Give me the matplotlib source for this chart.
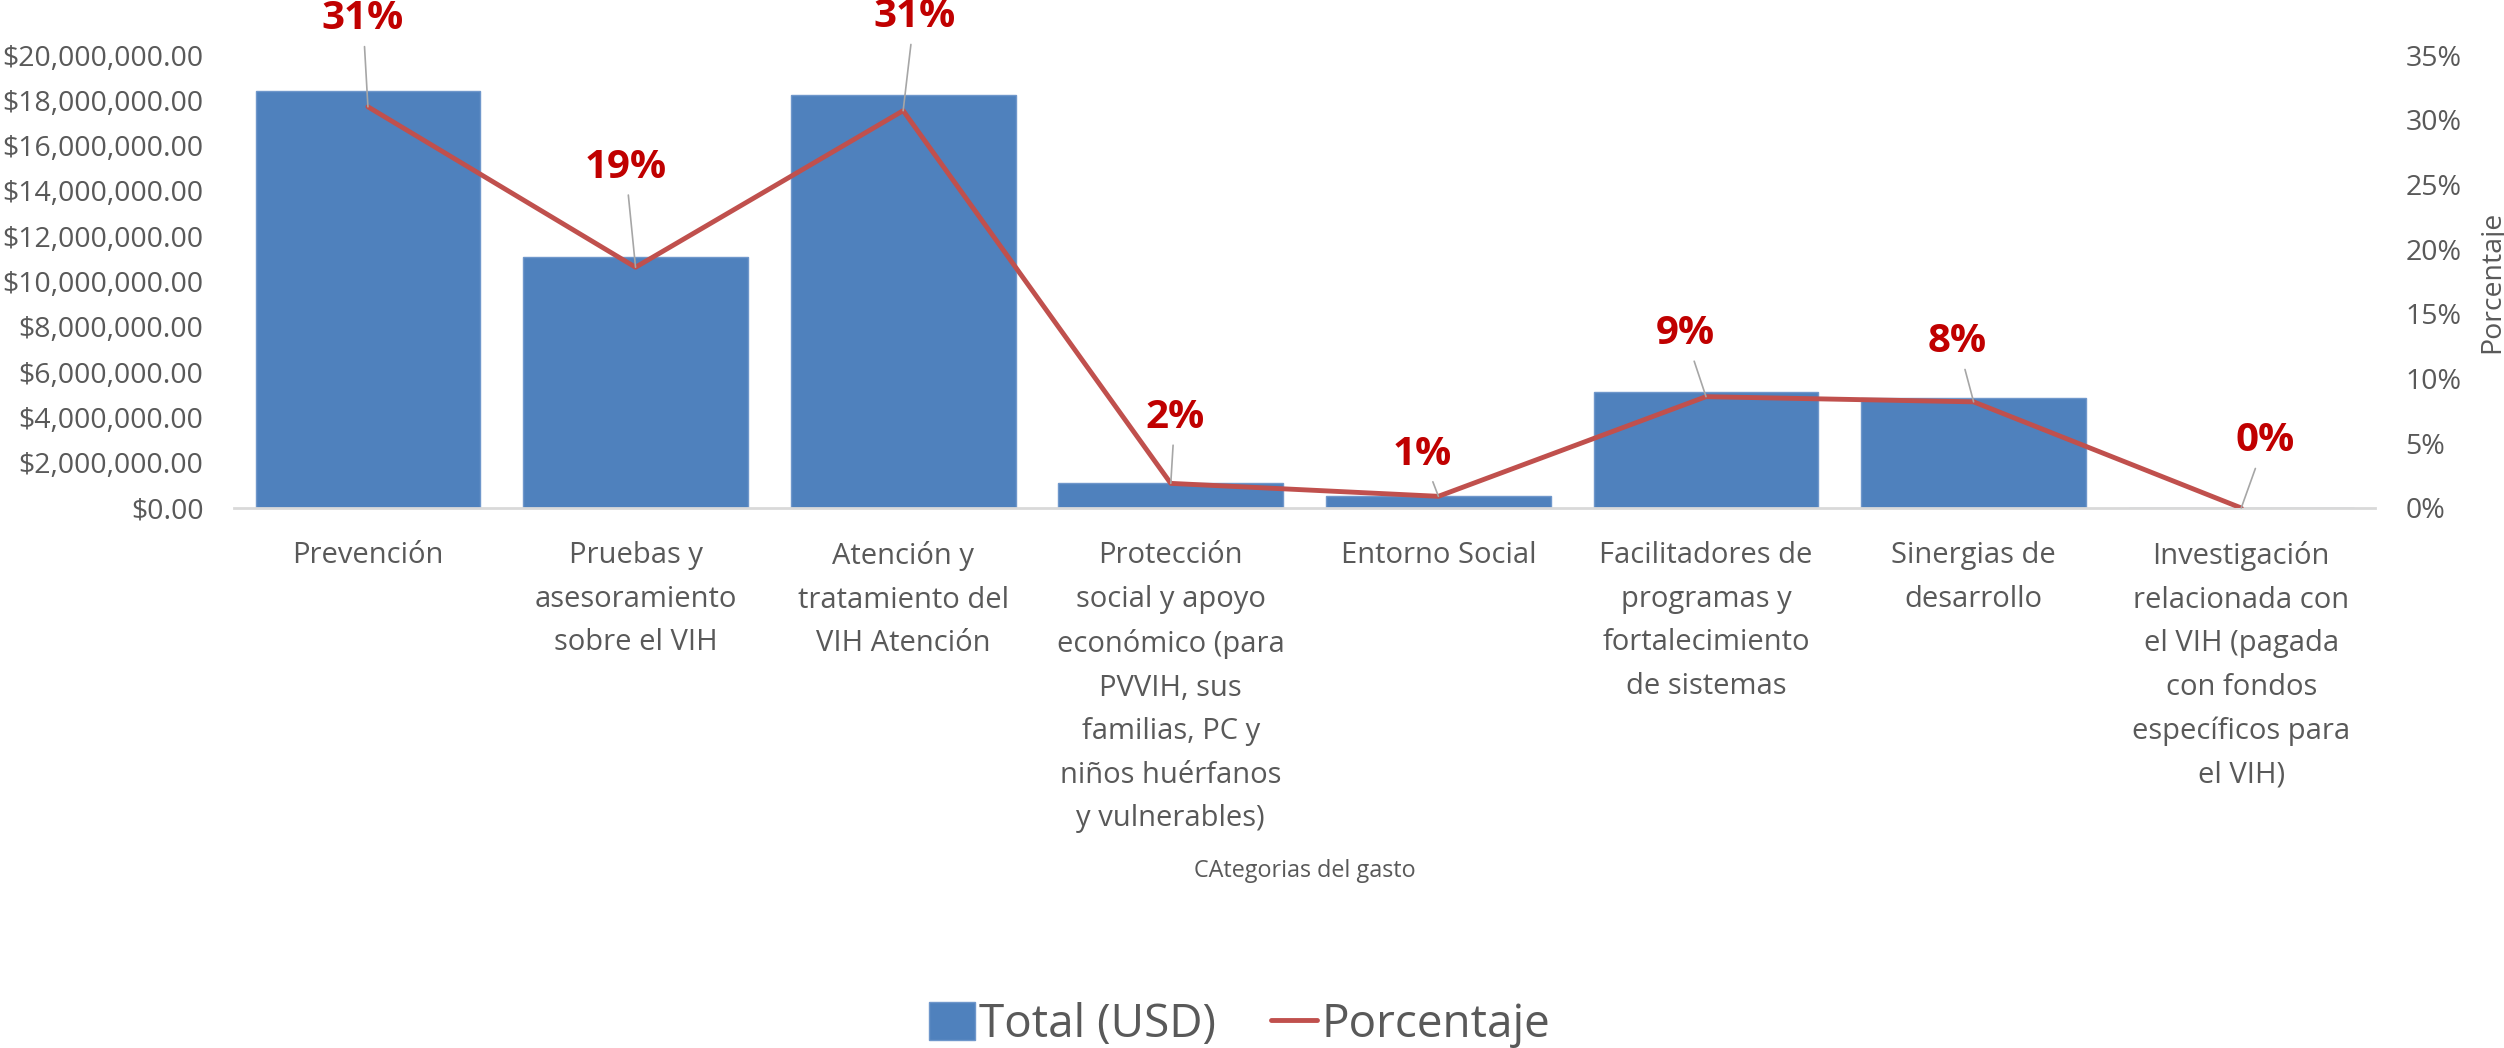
import numpy as np
import matplotlib
matplotlib.use("Agg")
import matplotlib.pyplot as plt
from matplotlib.ticker import FuncFormatter, MultipleLocator

plt.rcParams['font.family'] = ['Open Sans', 'DejaVu Sans']

# datos
categorias = [
    "Prevención",
    "Pruebas y\nasesoramiento\nsobre el VIH",
    "Atención y\ntratamiento del\nVIH Atención",
    "Protección\nsocial y apoyo\neconómico (para\nPVVIH, sus\nfamilias, PC y\nniños huérfanos\ny vulnerables)",
    "Entorno Social",
    "Facilitadores de\nprogramas y\nfortalecimiento\nde sistemas",
    "Sinergias de\ndesarrollo",
    "Investigación\nrelacionada con\nel VIH (pagada\ncon fondos\nespecíficos para\nel VIH)",
]
total_usd = [18400000, 11090000, 18220000, 1100000, 520000, 5110000, 4840000, 0]
porcentaje = [0.310, 0.186, 0.307, 0.019, 0.009, 0.086, 0.082, 0.0]
etiquetas = ["31%", "19%", "31%", "2%", "1%", "9%", "8%", "0%"]

# desplazamiento de las etiquetas (pixeles)
off_x = [-5, -10, 11, 4, -16, -21, -16, 24]
off_y = [88, 100, 94, 66, 42, 63, 60, 67]

gris = "#595959"
azul = "#4F81BD"
rojo = "#C0504D"

fig = plt.figure(figsize=(25.04, 10.48), dpi=100)
ax = fig.add_axes([0.0935, 0.5153, 0.8550, 0.4322])
ax2 = ax.twinx()

x = np.arange(len(categorias))
ax.bar(x, total_usd, width=0.84, color=azul, edgecolor="#6F97CB", linewidth=1, label="Total (USD)", zorder=2)
ax2.plot(x, porcentaje, color=rojo, lw=3.5, solid_capstyle="round", label="Porcentaje", zorder=3)

for i in range(len(x)):
    ax2.annotate(etiquetas[i], xy=(x[i], porcentaje[i]), xytext=(off_x[i], off_y[i]),
                 textcoords="offset pixels", ha="center", va="center",
                 fontsize=29, fontweight="bold", color="#C00000",
                 annotation_clip=False,
                 arrowprops=dict(arrowstyle="-", color="#A6A6A6", lw=1.2, shrinkA=4, shrinkB=0))

ax.set_xlim(-0.5, 7.5)
ax.set_ylim(0, 20000000)
ax2.set_ylim(0, 0.35)
ax.yaxis.set_major_locator(MultipleLocator(2000000))
ax2.yaxis.set_major_locator(MultipleLocator(0.05))
ax.yaxis.set_major_formatter(FuncFormatter(lambda v, p: "${:,.2f}".format(v)))
ax2.yaxis.set_major_formatter(FuncFormatter(lambda v, p: "{:.0%}".format(v)))

ax.set_xticks(x)
ax.set_xticklabels(categorias, linespacing=1.66, va="top")
ax.tick_params(axis="x", length=0, pad=24, labelsize=21, labelcolor=gris)
ax.tick_params(axis="y", length=0, pad=22, labelsize=20.5, labelcolor=gris)
ax2.tick_params(axis="y", length=0, pad=22, labelsize=20.5, labelcolor=gris)

for a in (ax, ax2):
    for s in ("top", "right", "left", "bottom"):
        a.spines[s].set_visible(False)
ax.spines["bottom"].set_visible(True)
ax.spines["bottom"].set_color("#D9D9D9")
ax.spines["bottom"].set_linewidth(2)

ax.set_xlabel("CAtegorias del gasto", fontsize=16.8, color=gris, labelpad=19)
ax2.set_ylabel("Porcentaje", fontsize=20.5, color=gris, labelpad=12)

h1, l1 = ax.get_legend_handles_labels()
h2, l2 = ax2.get_legend_handles_labels()
fig.legend(h1 + h2, l1 + l2, loc="center", bbox_to_anchor=(0.495, 0.022), ncol=2,
           frameon=False, fontsize=33, labelcolor=gris, handlelength=1.0,
           handleheight=0.9, handletextpad=0.1, columnspacing=1.2)

fig.savefig("out.png", dpi=100)
